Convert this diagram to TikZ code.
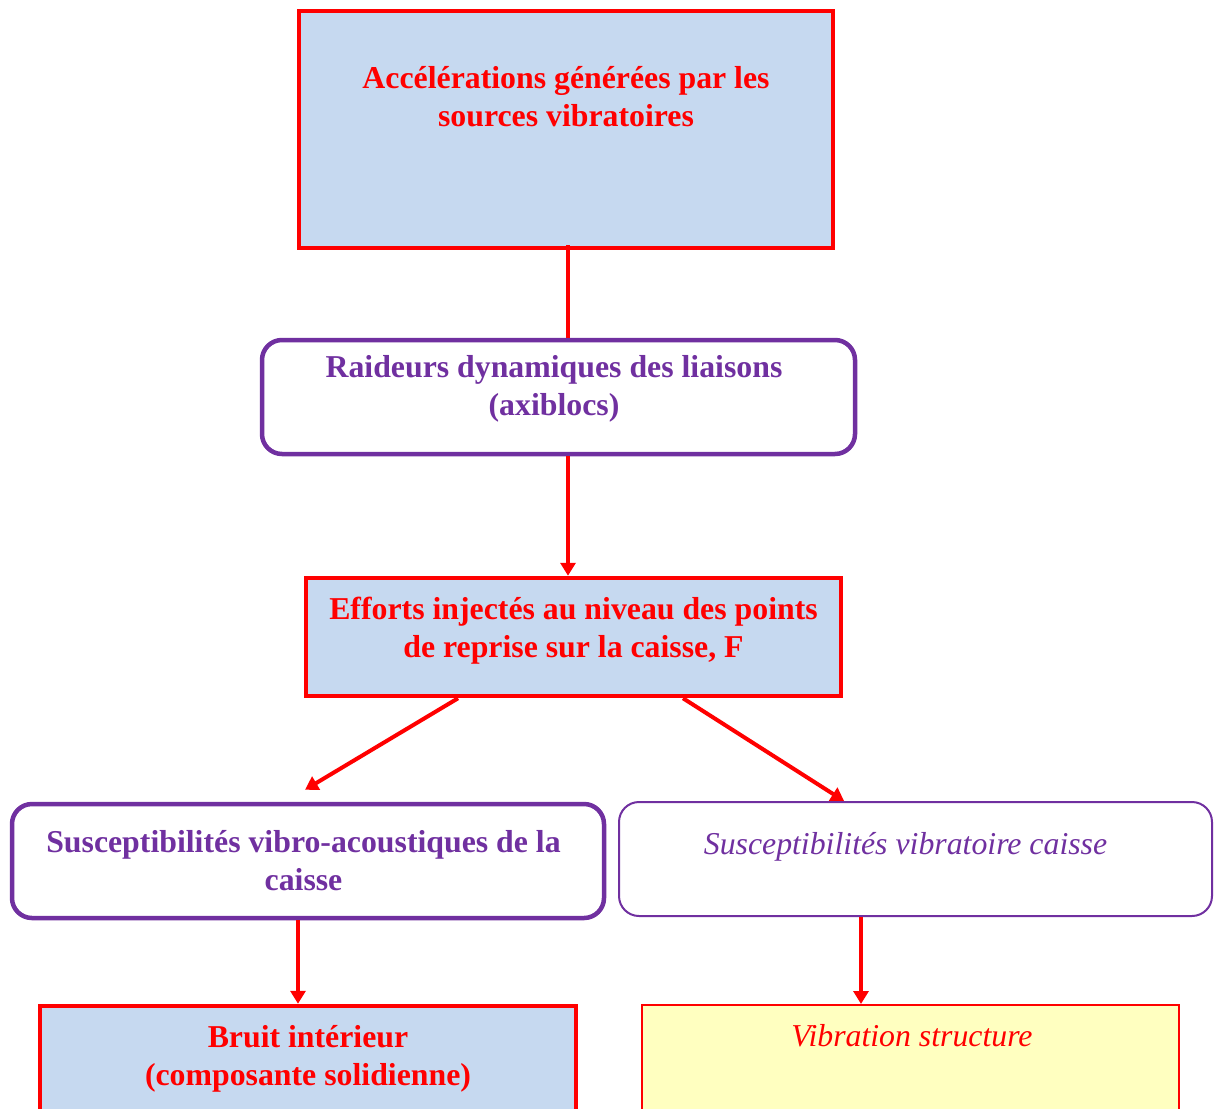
\documentclass[tikz,border=0pt]{standalone}
\usepackage{fontspec}
\setmainfont{Liberation Serif}
\usetikzlibrary{arrows.meta,calc}
\definecolor{boxred}{HTML}{FF0000}
\definecolor{boxpurple}{HTML}{7030A0}
\definecolor{boxblue}{HTML}{C6D9F0}
\definecolor{boxyellow}{HTML}{FFFFC0}
\begin{document}
\begin{tikzpicture}[x=1pt,y=-1pt,
  redbox/.style={draw=boxred,line width=4.5pt,fill=boxblue,inner sep=0pt},
  thinredbox/.style={draw=boxred,line width=2pt,fill=boxyellow,inner sep=0pt},
  purplebox/.style={draw=boxpurple,line width=4.5pt,rounded corners=20pt,fill=white,inner sep=0pt},
  thinpurplebox/.style={draw=boxpurple,line width=2pt,rounded corners=20pt,fill=white,inner sep=0pt},
  bigtext/.style={font=\fontsize{31.8}{38}\selectfont\bfseries,align=center,inner sep=0pt},
  itext/.style={font=\fontsize{31.8}{38}\selectfont\itshape,align=center,inner sep=0pt},
  conn/.style={draw=boxred,line width=4pt},
  arr/.style={conn,-{Triangle[length=13pt,width=15pt]}}
]
\useasboundingbox (0,0) rectangle (1222,1108);
\clip (0,0) rectangle (1222,1108);

% boxes
\node[redbox,minimum width=534pt,minimum height=237pt] (top) at (566,129.5) {};
\node[purplebox,minimum width=593pt,minimum height=114pt] (raid) at (558.5,397) {};
\node[redbox,minimum width=535pt,minimum height=118pt] (eff) at (573.5,637) {};
\node[purplebox,minimum width=592pt,minimum height=114pt] (vib) at (308,861) {};
\node[thinpurplebox,minimum width=593pt,minimum height=114pt] (vibc) at (915.5,859) {};
\node[redbox,minimum width=536pt,minimum height=200pt] (bruit) at (308,1106) {};
\node[thinredbox,minimum width=537pt,minimum height=200pt] (vstruct) at (910.5,1105) {};

% texts
\node[bigtext,text=boxred] (toptxt) at (566,97) {Accélérations générées par les\\sources vibratoires};
\node[bigtext,text=boxpurple] (raidtxt) at (554,389) {Raideurs dynamiques des liaisons\\(axiblocs)};
\node[bigtext,text=boxred] (efftxt) at (573.5,630.5) {Efforts injectés au niveau des points\\de reprise sur la caisse, F};
\node[bigtext,text=boxpurple] (vibtxt) at (303.5,861) {Susceptibilités vibro-acoustiques de la\\caisse};
\node[itext,text=boxpurple] (vibctxt) at (905.5,846.6) {Susceptibilités vibratoire caisse};
\node[bigtext,text=boxred] (bruittxt) at (308,1059) {Bruit intérieur\\(composante solidienne)};
\node[itext,text=boxred] (vstructtxt) at (912,1035.5) {Vibration structure};

% helper columns
\coordinate (c1) at (568,0);
\coordinate (c2) at (298,0);
\coordinate (c3) at (861,0);

% connectors
\draw[conn] ($(top.south -| c1)+(0,-5)$) -- (raid.north -| c1);
\draw[arr] (raid.south -| c1) -- (eff.north -| c1);
\draw[arr] ($(eff.south west)!0.286!(eff.south east)$) -- ($(vib.north)+(-3,-12)$);
\draw[arr] ($(eff.south west)!0.703!(eff.south east)$) -- ($(vibc.north west)!0.38!(vibc.north east)$);
\draw[arr] (vib.south -| c2) -- (bruit.north -| c2);
\draw[arr] (vibc.south -| c3) -- (vstruct.north -| c3);
\end{tikzpicture}
\end{document}
